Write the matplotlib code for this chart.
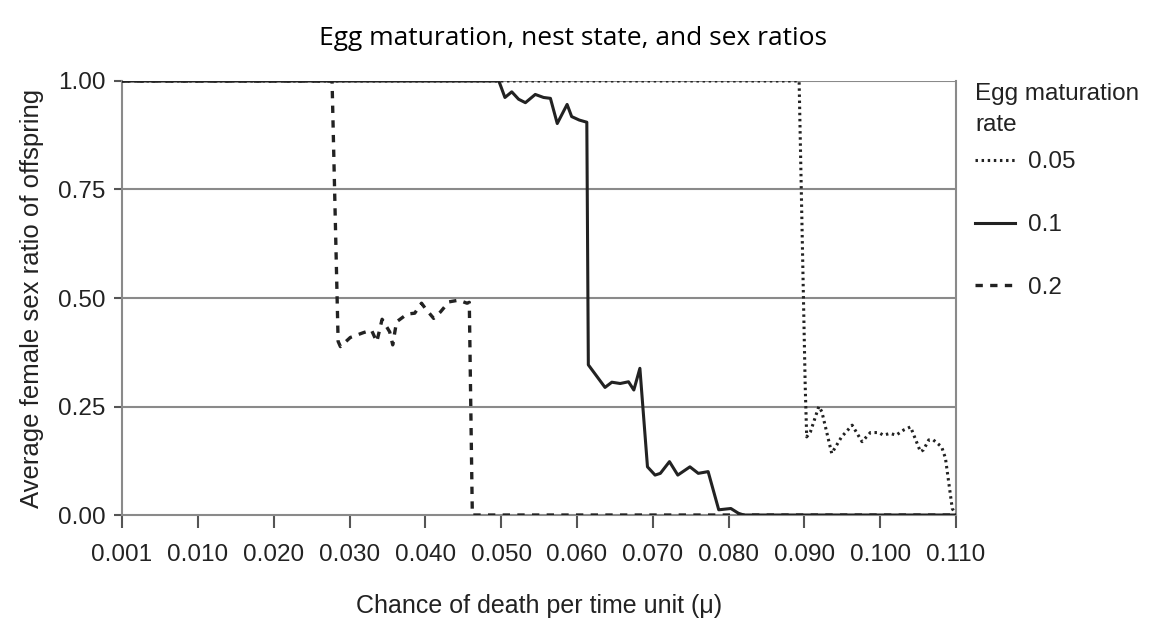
import numpy as np
import matplotlib
matplotlib.use("Agg")
import matplotlib.pyplot as plt

# mu values (x) and average female sex ratio (y)
x_05 = [0.0, 0.0893, 0.0901, 0.0903, 0.0908, 0.0919, 0.0923, 0.0936, 0.0949, 0.0963,
        0.0976, 0.0987, 0.0998, 0.1004, 0.1013, 0.1021, 0.1031, 0.1040, 0.1053,
        0.1057, 0.1064, 0.1070, 0.1081, 0.1086, 0.1095, 0.1100]
y_05 = [1.0, 1.0, 0.30, 0.180, 0.192, 0.250, 0.238, 0.142, 0.180, 0.207,
        0.169, 0.190, 0.190, 0.184, 0.188, 0.184, 0.196, 0.203, 0.146,
        0.150, 0.173, 0.173, 0.157, 0.131, 0.015, 0.0]

x_1 = [0.0, 0.0497, 0.0505, 0.0514, 0.0523, 0.0532, 0.0545, 0.0556, 0.0565, 0.0574,
       0.0587, 0.0593, 0.0603, 0.0613, 0.0615, 0.0637, 0.0646, 0.0657, 0.0668,
       0.0675, 0.0683, 0.0693, 0.0703, 0.0710, 0.0722, 0.0733, 0.0749, 0.0760,
       0.0773, 0.0787, 0.0803, 0.0813, 0.0820, 0.1100]
y_1 = [1.0, 1.0, 0.962, 0.975, 0.958, 0.950, 0.969, 0.962, 0.960, 0.902,
       0.946, 0.918, 0.910, 0.905, 0.346, 0.294, 0.306, 0.303, 0.307,
       0.288, 0.338, 0.111, 0.092, 0.096, 0.123, 0.092, 0.111, 0.096,
       0.100, 0.012, 0.015, 0.004, 0.0, 0.0]

x_2 = [0.0, 0.0277, 0.0285, 0.0288, 0.0301, 0.0318, 0.0329, 0.0336, 0.0343, 0.0353,
       0.0357, 0.0362, 0.0376, 0.0386, 0.0395, 0.0400, 0.0411, 0.0420, 0.0431,
       0.0444, 0.0455, 0.0458, 0.0462, 0.1100]
y_2 = [1.0, 1.0, 0.40, 0.388, 0.409, 0.420, 0.426, 0.399, 0.451, 0.422,
       0.392, 0.445, 0.463, 0.465, 0.488, 0.476, 0.453, 0.468, 0.491,
       0.495, 0.488, 0.49, 0.0, 0.0]

xtick_pos = np.arange(0, 0.111, 0.01)
xtick_labels = ["0.001", "0.010", "0.020", "0.030", "0.040", "0.050",
                "0.060", "0.070", "0.080", "0.090", "0.100", "0.110"]
yticks = [0.0, 0.25, 0.5, 0.75, 1.0]

plt.rcParams['font.family'] = ['Liberation Sans', 'DejaVu Sans']

fig = plt.figure(figsize=(11.59, 6.22), dpi=100)
ax = fig.add_axes([0.1053, 0.172, 0.7196, 0.6978])

grey = '#8a8a8a'
dark = '#222222'
for yv in yticks[1:]:
    ax.axhline(yv, color=grey, lw=1.5, zorder=1)

ax.plot(x_05, y_05, color=dark, lw=2.2, linestyle=(0, (0.8, 1.2)),
        label='0.05', zorder=3)
ax.plot(x_2, y_2, color=dark, lw=2.4, linestyle=(0, (2.2, 2.2)),
        label='0.2', zorder=4)
ax.plot(x_1, y_1, color=dark, lw=2.2, label='0.1', zorder=5)

ax.set_xlim(0, 0.11)
ax.set_ylim(0, 1.0)
ax.set_xticks(xtick_pos)
ax.set_xticklabels(xtick_labels)
ax.set_yticks(yticks)
ax.set_yticklabels(["0.00", "0.25", "0.50", "0.75", "1.00"])
ax.tick_params(axis='both', labelsize=17.5, colors='#555555', labelcolor=dark,
               width=1.5)
ax.tick_params(axis='x', length=9, pad=12)
ax.tick_params(axis='y', length=6, pad=6)
for s in ax.spines.values():
    s.set_color(grey)
    s.set_linewidth(1.5)
ax.spines['top'].set_visible(False)

ax.set_xlabel("Chance of death per time unit (\u03bc)", fontsize=18,
              color=dark, labelpad=20)
ax.set_ylabel("Average female sex ratio of offspring", fontsize=18.5,
              color=dark, labelpad=10)

fig.suptitle("Egg maturation, nest state, and sex ratios", fontsize=19,
             family=['Open Sans', 'DejaVu Sans'], y=0.958, x=0.494)

# legend title as separate text (tighter gap than the legend's own title)
ax.text(1.0228, 0.996, "Egg maturation\nrate", transform=ax.transAxes,
        ha='left', va='top', fontsize=17.5, color=dark, linespacing=1.55)

handles, labels = ax.get_legend_handles_labels()
order = [0, 2, 1]
leg = ax.legend([handles[i] for i in order], [labels[i] for i in order],
                loc='center left', bbox_to_anchor=(0.9964, 0.668),
                frameon=False, fontsize=17.5, labelspacing=1.67,
                handlelength=1.65, handletextpad=0.55)
for t in leg.get_texts():
    t.set_color(dark)

fig.savefig("out.png", dpi=100)
